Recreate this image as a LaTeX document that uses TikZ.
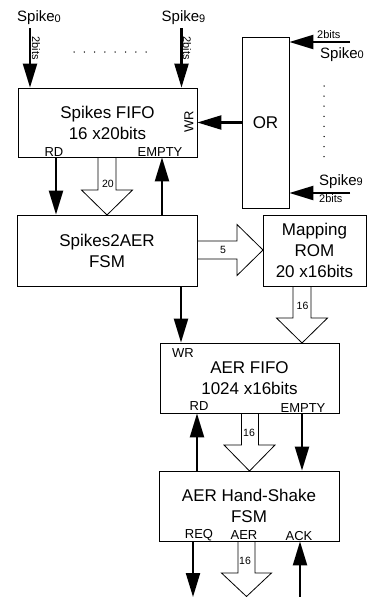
\documentclass[tikz,border=0pt]{standalone}
\usepackage{fontspec}
\setmainfont{Liberation Sans}
\usetikzlibrary{arrows.meta}
\newcommand\spk[1]{Spike{\fontsize{11}{11}\selectfont\raisebox{-0.8pt}{#1}}}
\begin{document}
\begin{tikzpicture}[x=1pt,y=-1pt,
  box/.style={draw, line width=0.8pt, inner sep=0pt, align=center, font=\fontsize{17}{21}\selectfont},
  sig/.style={line width=2.2pt, -{Triangle[length=24pt,width=14pt]}},
  wide/.style={draw, line width=0.8pt, line join=miter},
  port/.style={inner sep=0pt, font=\fontsize{13}{13}\selectfont},
  lbl/.style={inner sep=0pt, font=\fontsize{15}{15}\selectfont},
  small/.style={inner sep=0pt, font=\fontsize{11}{11}\selectfont},
  num/.style={inner sep=0pt, font=\fontsize{10.5}{10.5}\selectfont},
  dotm/.style={circle, fill, inner sep=0pt, minimum size=1.5pt}
]
\useasboundingbox (0,0) rectangle (367,597);

% boxes
\node[box, minimum width=179pt, minimum height=69pt] (fifo) at (107.5,122.5) {Spikes FIFO\\16 x20bits};
\node[box, minimum width=47pt, minimum height=171pt] (orb) at (265.5,122.5) {OR};
\node[box, minimum width=180pt, minimum height=71pt] (s2a) at (107,250.5) {Spikes2AER\\FSM};
\node[box, minimum width=103pt, minimum height=71pt] (rom) at (314.5,250.5) {Mapping\\ROM\\20 x16bits};
\node[box, minimum width=179pt, minimum height=70pt] (aer) at (249.5,378) {AER FIFO\\1024 x16bits};
\node[box, minimum width=180pt, minimum height=70pt] (hs) at (249,506) {AER Hand-Shake\\FSM};

% input labels
\node[lbl, anchor=base west] (sp0) at (17,21.5) {\spk{0}};
\node[lbl, anchor=base west] (sp9) at (161.5,21.5) {\spk{9}};
\node[lbl, anchor=base west] (rsp0) at (320,58) {\spk{0}};
\node[lbl, anchor=base west] (rsp9) at (319,185) {\spk{9}};
\node[small, anchor=base west] (rb0) at (317,38) {2bits};
\node[small, anchor=base west] (rb9) at (319,202) {2bits};
\node[small, rotate=-90] (tb0) at (36,48) {2bits};
\node[small, rotate=-90] (tb9) at (187,48) {2bits};

% dots
\foreach \i in {0,...,7} {
  \node[dotm] (hd\i) at ({74+10.3*\i},52) {};
  \node[dotm] (vd\i) at (324,{86+10.1*\i}) {};
}

% port labels
\node[port, anchor=base] (rd1) at (54,156) {RD};
\node[port, anchor=base] (em1) at (160,156.5) {EMPTY};
\node[port, rotate=90] (wr1) at (189,122) {WR};
\node[port, anchor=base] (wr2) at (183,357) {WR};
\node[port, anchor=base] (rd2) at (199,410) {RD};
\node[port, anchor=base] (em2) at (303,412) {EMPTY};
\node[port, anchor=base] (req) at (199,538) {REQ};
\node[port, anchor=base] (aerl) at (244,539) {AER};
\node[port, anchor=base] (ack) at (299,540.5) {ACK};

% coordinates for signal lines
\coordinate (s0in) at (30,28);
\coordinate (s9in) at (181.5,28);
\coordinate (r0in) at (350,42);
\coordinate (r9in) at (350,193);
\coordinate (xrd) at (56,0);
\coordinate (xem) at (162,0);
\coordinate (xwr) at (181,0);
\coordinate (xrd2) at (197,0);
\coordinate (xem2) at (302,0);
\coordinate (reqo) at (193,597);
\coordinate (acki) at (300,597);

% signal arrows
\draw[sig] (s0in) -- (s0in |- fifo.north);
\draw[sig] (s9in) -- (s9in |- fifo.north);
\draw[sig] (r0in) -- (r0in -| orb.east);
\draw[sig] (r9in) -- (r9in -| orb.east);
\draw[sig] (orb.west) -- (fifo.east);
\draw[sig] (xrd |- fifo.south) -- (xrd |- s2a.north);
\draw[sig] (xem |- s2a.north) -- (xem |- fifo.south);
\draw[sig] (xwr |- s2a.south) -- (xwr |- aer.north);
\draw[sig] (xrd2 |- hs.north) -- (xrd2 |- aer.south);
\draw[sig] (xem2 |- aer.south) -- (xem2 |- hs.north);
\draw[sig] (reqo |- hs.south) -- (reqo);
\draw[sig] (acki) -- (acki |- hs.south);

% wide bus arrows
\draw[wide] (98,157) -- (98,190) -- (81.5,190) -- (107,215) -- (132.5,190) -- (116,190) -- (116,157);
\draw[wide] (197,241) -- (237,241) -- (237,224.5) -- (263,250) -- (237,275.5) -- (237,259) -- (197,259);
\draw[wide] (293,286) -- (293,318) -- (276.5,318) -- (302,343) -- (327.5,318) -- (311,318) -- (311,286);
\draw[wide] (241.5,413) -- (241.5,445) -- (224,445) -- (249.5,471) -- (275,445) -- (258.5,445) -- (258.5,413);
\draw[wide] (238,541) -- (238,573) -- (221.5,573) -- (246.5,596.5) -- (271.5,573) -- (255,573) -- (255,541);

\node[num] (n20) at (108,184) {20};
\node[num] (n5) at (223,250) {5};
\node[num] (n16a) at (302.5,305.5) {16};
\node[num] (n16b) at (249,432.5) {16};
\node[num] (n16c) at (245,561) {16};
\end{tikzpicture}
\end{document}
